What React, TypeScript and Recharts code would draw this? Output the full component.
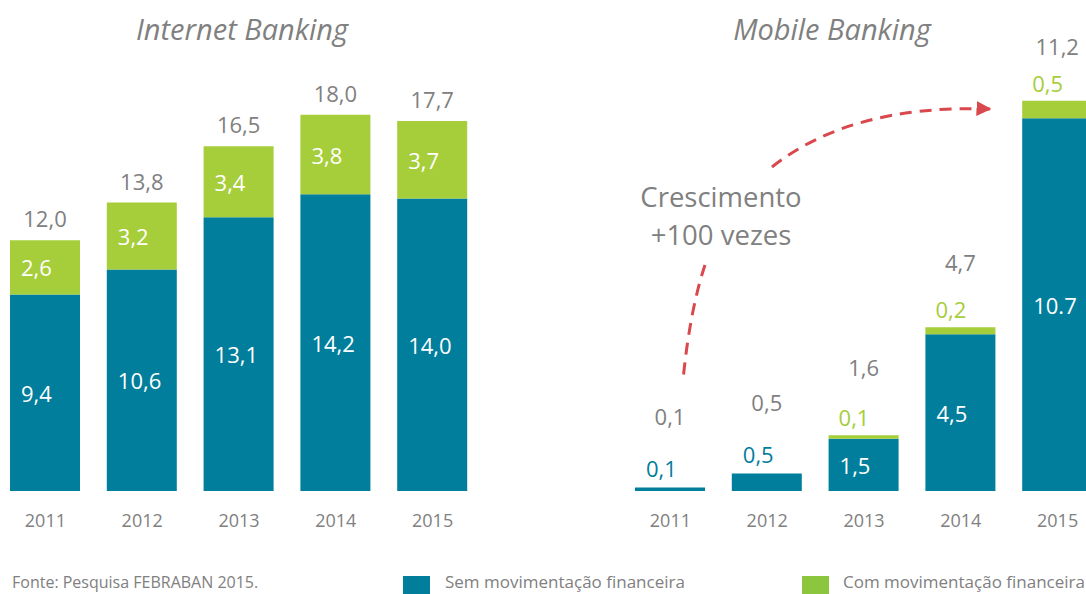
import React from 'react';
import { BarChart, Bar, XAxis, YAxis, LabelList } from 'recharts';

const years = ['2011', '2012', '2013', '2014', '2015'];

// Internet Banking (milhões)
const ibSem = [9.4, 10.6, 13.1, 14.2, 14.0];
const ibCom = [2.6, 3.2, 3.4, 3.8, 3.7];
const ibTotal = [12.0, 13.8, 16.5, 18.0, 17.7];

// Mobile Banking
const mbSem = [0.1, 0.5, 1.5, 4.5, 10.7];
const mbCom = [0, 0, 0.1, 0.2, 0.5];
const mbTotal = [0.1, 0.5, 1.6, 4.7, 11.2];
const mbSemLabels = ['0,1', '0,5', '1,5', '4,5', '10.7'];

const TEAL = '#007e9c';
const GREEN = '#a6cd3a';
const GRAY = '#808080';
const FONT = '"Open Sans", sans-serif';

const fmt = (v: number) => v.toFixed(1).replace('.', ',');

const ibData = years.map((year, i) => ({ year, sem: ibSem[i], com: ibCom[i], total: ibTotal[i] }));
const mbData = years.map((year, i) => ({
    year,
    sem: mbSem[i],
    com: mbCom[i],
    total: mbTotal[i],
    semLabel: mbSemLabels[i],
}));

const YearTick = (props: any) => {
    const { x, y, payload } = props;
    return (
        <text x={x} y={Number(y) + 21} textAnchor="middle" dominantBaseline="central" fill={GRAY} fontSize={18} fontFamily={FONT}>
            {payload.value}
        </text>
    );
};

const insideLabel = (props: any) => {
    const x = Number(props.x), y = Number(props.y), h = Number(props.height);
    return (
        <text x={x + 11} y={y + h / 2} dominantBaseline="central" fill="#fff" fontSize={22} fontFamily={FONT}>
            {fmt(Number(props.value))}
        </text>
    );
};

const totalLabel = (offset: number) => (props: any) => {
    const x = Number(props.x), y = Number(props.y), w = Number(props.width);
    return (
        <text x={x + w / 2} y={y - offset} textAnchor="middle" dominantBaseline="central" fill={GRAY} fontSize={22} fontFamily={FONT}>
            {fmt(Number(props.value))}
        </text>
    );
};

const mbSemLabel = (props: any) => {
    const x = Number(props.x), y = Number(props.y), h = Number(props.height);
    const inside = h > 30;
    return (
        <text
            x={x + 11}
            y={inside ? y + h / 2 : y - 20}
            dominantBaseline="central"
            fill={inside ? '#fff' : TEAL}
            fontSize={22}
            fontFamily={FONT}
        >
            {props.value}
        </text>
    );
};

const mbComLabel = (props: any) => {
    const v = Number(props.value);
    if (!v) return null;
    const x = Number(props.x), y = Number(props.y);
    return (
        <text x={x + 10} y={y - 18} dominantBaseline="central" fill={GREEN} fontSize={22} fontFamily={FONT}>
            {fmt(v)}
        </text>
    );
};

const chartMargin = { top: 73, right: 0, left: 0, bottom: 73 };

const App: React.FC = () => {
    return (
        <div style={{ position: 'absolute', top: 0, left: 0, width: 1086, height: 594, overflow: 'hidden', background: '#fff', fontFamily: FONT }}>
            <div style={{ position: 'absolute', left: -3, top: 0 }}>
                <BarChart width={484} height={594} data={ibData} margin={chartMargin}>
                    <XAxis dataKey="year" axisLine={false} tickLine={false} interval={0} tick={<YearTick />} height={30} />
                    <YAxis hide domain={[0, 20]} />
                    <Bar dataKey="sem" stackId="a" fill={TEAL} barSize={70} isAnimationActive={false}>
                        <LabelList dataKey="sem" content={insideLabel} />
                    </Bar>
                    <Bar dataKey="com" stackId="a" fill={GREEN} barSize={70} isAnimationActive={false}>
                        <LabelList dataKey="com" content={insideLabel} />
                        <LabelList dataKey="total" content={totalLabel(22)} />
                    </Bar>
                </BarChart>
            </div>
            <div style={{ position: 'absolute', left: 622, top: 0 }}>
                <BarChart width={484} height={594} data={mbData} margin={chartMargin}>
                    <XAxis dataKey="year" axisLine={false} tickLine={false} interval={0} tick={<YearTick />} height={30} />
                    <YAxis hide domain={[0, 12]} />
                    <Bar dataKey="sem" stackId="a" fill={TEAL} barSize={70} isAnimationActive={false}>
                        <LabelList dataKey="semLabel" content={mbSemLabel} />
                        <LabelList dataKey="total" content={totalLabel(72)} />
                    </Bar>
                    <Bar dataKey="com" stackId="a" fill={GREEN} barSize={70} isAnimationActive={false}>
                        <LabelList dataKey="com" content={mbComLabel} />
                    </Bar>
                </BarChart>
            </div>

            <svg width={1086} height={594} style={{ position: 'absolute', left: 0, top: 0, pointerEvents: 'none' }}>
                <defs>
                    <marker id="arrow" viewBox="0 0 10 10" refX="9" refY="5" markerWidth="5" markerHeight="5" orient="auto">
                        <path d="M0,0 L10,5 L0,10 z" fill="#d9484c" />
                    </marker>
                </defs>
                <text x={242} y={28} textAnchor="middle" dominantBaseline="central" fill={GRAY} fontSize={29} fontStyle="italic" fontFamily={FONT}>
                    Internet Banking
                </text>
                <text x={832} y={28} textAnchor="middle" dominantBaseline="central" fill={GRAY} fontSize={29} fontStyle="italic" fontFamily={FONT}>
                    Mobile Banking
                </text>

                <text x={721} y={196} textAnchor="middle" dominantBaseline="central" fill={GRAY} fontSize={27.5} fontFamily={FONT}>
                    Crescimento
                </text>
                <text x={721} y={234} textAnchor="middle" dominantBaseline="central" fill={GRAY} fontSize={27.5} fontFamily={FONT}>
                    +100 vezes
                </text>
                <path d="M772,167 Q852,104 990,109" fill="none" stroke="#d9484c" strokeWidth={3} strokeDasharray="12 8" markerEnd="url(#arrow)" />
                <path d="M705,265 Q690,310 683,380" fill="none" stroke="#d9484c" strokeWidth={3} strokeDasharray="12 8" />

                <text x={12} y={588} fill={GRAY} fontSize={16} fontFamily={FONT}>
                    Fonte: Pesquisa FEBRABAN 2015.
                </text>
                <rect x={403} y={576} width={27} height={18} fill={TEAL} />
                <text x={445} y={588} fill={GRAY} fontSize={17} fontFamily={FONT}>
                    Sem movimentação financeira
                </text>
                <rect x={802} y={576} width={27} height={18} fill="#8cc63f" />
                <text x={843} y={588} fill={GRAY} fontSize={17} fontFamily={FONT}>
                    Com movimentação financeira
                </text>
            </svg>
        </div>
    );
};

export default App;
